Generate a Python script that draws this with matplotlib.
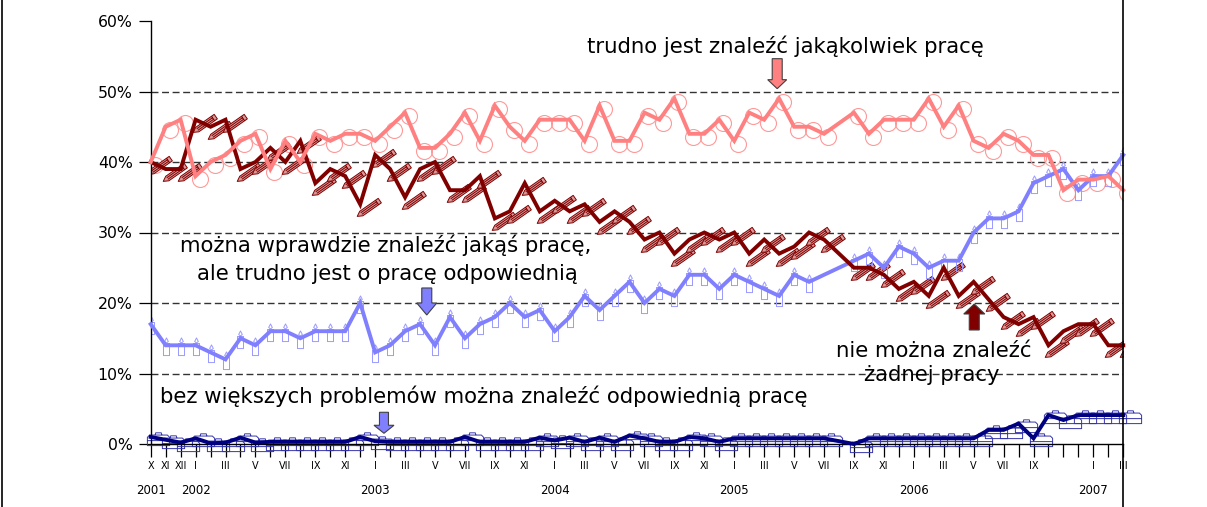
import numpy as np
import matplotlib
matplotlib.use("Agg")
import matplotlib.pyplot as plt
from matplotlib.path import Path
import matplotlib.transforms as mtransforms
from matplotlib.patches import Polygon
from matplotlib.lines import Line2D

nan = np.nan

# ---------------- data (monthly, X 2001 .. III 2007) ----------------
month_labels = ['X', 'XI', 'XII', 'I', '', 'III', '', 'V', '', 'VII', '', 'IX', '', 'XI', '',
                'I', '', 'III', '', 'V', '', 'VII', '', 'IX', '', 'XI', '',
                'I', '', 'III', '', 'V', '', 'VII', '', 'IX', '', 'XI', '',
                'I', '', 'III', '', 'V', '', 'VII', '', 'IX', '', 'XI', '',
                'I', '', 'III', '', 'V', '', 'VII', '', 'IX', '', '', '',
                'I', '', 'III']
year_labels = ['2001', '2002', '2003', '2004', '2005', '2006', '2007']
year_pos = [0, 3, 15, 27, 39, 51, 63]

any_job_hard = [40, 45, 46, 38, 40, 41, 43, 44, 39, 43,
                40, 44, 43, 44, 44, 43, 45, 47, 42, 42,
                44, 47, 43, 48, 45, 43, 46, 46, 46, 43,
                48, 43, 43, 47, 46, 49, 44, 44, 46, 43,
                47, 46, 49, 45, 45, 44, nan, 47, 44, 46,
                46, 46, 49, 45, 48, 43, 42, 44, 43, 41,
                41, 36, 37.5, 37.5, 38, 36]
no_job = [40, 39, 39, 46, 45, 46, 39, 40, 42, 40,
          43, 37, 39, 38, 34, 41, 39, 35, 39, 40,
          36, 36, 38, 32, 33, 37, 33, 34.5, 33, 34,
          31.5, 33, 31.5, 29, 30, 27, 29, 30, 29, 30,
          27, 29, 27, 28, 30, 29, nan, 25, 25, 24,
          22, 23, 21, 25, 21, 23, 20.5, 18, 17, 18,
          14, 16, 17, 17, 14, 14]
suitable_hard = [17, 14, 14, 14, 13, 12, 15, 14, 16, 16,
                 15, 16, 16, 16, 20, 13, 14, 16, 17, 14,
                 18, 15, 17, 18, 20, 18, 19, 16, 18, 21,
                 19, 21, 23, 20, 22, 21, 24, 24, 22, 24,
                 23, 22, 21, 24, 23, nan, nan, 26, 27, 25,
                 28, 27, 25, 26, 26, 30, 32, 32, 33, 37,
                 38, 39, 36, 38, 38, 41]
easy = [1.0, 0.6, 0.2, 0.8, 0.1, 0.2, 0.9, 0.2, 0.3, 0.3,
        0.3, 0.3, 0.3, 0.3, 1.0, 0.4, 0.3, 0.3, 0.3, 0.3,
        0.3, 1.0, 0.3, 0.3, 0.3, 0.3, 0.9, 0.5, 0.9, 0.3,
        0.9, 0.3, 1.2, 0.8, 0.3, 0.3, 1.0, 0.8, 0.3, 0.8,
        0.8, 0.8, 0.8, 0.8, 0.8, 0.8, nan, 0.0, 0.8, 0.8,
        0.8, 0.8, 0.8, 0.8, 0.8, 0.8, 2.0, 2.0, 2.9, 0.8,
        4.1, 3.4, 4.1, 4.1, 4.1, 4.1]
x = np.arange(len(any_job_hard))

C_PINK = '#FF8080'
C_DRED = '#800000'
C_BLUE = '#8080FF'
C_NAVY = '#000080'

plt.rcParams['font.family'] = ['DejaVu Sans']

W, H = 1207, 507
fig = plt.figure(figsize=(W / 100, H / 100), dpi=100)
ax_l, ax_r, ax_t, ax_b = 150.7, 1123.3, 21, 444
ax = fig.add_axes([ax_l / W, (H - ax_b) / H, (ax_r - ax_l) / W, (ax_b - ax_t) / H])
ax.set_xlim(0, 65)
ax.set_ylim(0, 60)

# ---------------- custom markers ----------------
def pencil_path():
    verts = [(-0.5, 0), (-0.32, 0.1), (0.5, 0.1), (0.5, -0.1), (-0.32, -0.1), (-0.5, 0),
             (-0.32, 0.035), (0.38, 0.035),
             (-0.32, -0.035), (0.38, -0.035),
             (0.38, 0.1), (0.38, -0.1)]
    codes = [Path.MOVETO, Path.LINETO, Path.LINETO, Path.LINETO, Path.LINETO, Path.CLOSEPOLY,
             Path.MOVETO, Path.LINETO, Path.MOVETO, Path.LINETO, Path.MOVETO, Path.LINETO]
    a = np.deg2rad(35)
    R = np.array([[np.cos(a), -np.sin(a)], [np.sin(a), np.cos(a)]])
    v = np.array(verts) @ R.T
    return Path(v, codes)

def candle_path():
    verts = [(-0.3, -1.0), (0.3, -1.0), (0.3, 0.2), (-0.3, 0.2), (-0.3, -1.0),
             (0.0, 0.75), (0.18, 0.4), (0.0, 0.25), (-0.18, 0.4), (0.0, 0.75)]
    codes = [Path.MOVETO, Path.LINETO, Path.LINETO, Path.LINETO, Path.CLOSEPOLY,
             Path.MOVETO, Path.LINETO, Path.LINETO, Path.LINETO, Path.CLOSEPOLY]
    return Path(verts, codes)

def case_path():
    verts = [(-1.0, -0.55), (1.0, -0.55), (1.0, 0.2), (0.8, 0.4), (-0.8, 0.4), (-1.0, 0.2), (-1.0, -0.55),
             (-0.3, 0.4), (-0.25, 0.6), (0.25, 0.6), (0.3, 0.4),
             (-1.0, -0.1), (1.0, -0.1)]
    codes = [Path.MOVETO, Path.LINETO, Path.LINETO, Path.LINETO, Path.LINETO, Path.LINETO, Path.CLOSEPOLY,
             Path.MOVETO, Path.LINETO, Path.LINETO, Path.LINETO,
             Path.MOVETO, Path.LINETO]
    return Path(verts, codes)

def off(dx, dy):
    return mtransforms.offset_copy(ax.transData, fig=fig, x=dx, y=dy, units='dots')

# markers (under the lines)
ax.plot(x, any_job_hard, ls='none', marker='o', ms=11.5, mfc='none', mec='#FF9999', mew=0.8,
        transform=off(4, -3), zorder=2)
ax.plot(x, no_job, ls='none', marker=pencil_path(), ms=18.5, mfc='#D89A9A', mec=C_DRED, mew=0.7,
        transform=off(8, -4), zorder=2)
ax.plot(x, suitable_hard, ls='none', marker=candle_path(), ms=14.5, mfc='none', mec='#9999FF', mew=0.7,
        zorder=2)
ax.plot(x, easy, ls='none', marker=case_path(), ms=16, mfc='none', mec='#3333AA', mew=0.7,
        transform=off(7, -2), zorder=2, clip_on=False)

# lines
for ser, col in [(suitable_hard, C_BLUE), (easy, C_NAVY), (no_job, C_DRED), (any_job_hard, C_PINK)]:
    xs = np.array(x, dtype=float)
    ys = np.array(ser, dtype=float)
    ok = ~np.isnan(ys)
    ax.plot(xs[ok], ys[ok], color=col, lw=2.8, solid_joinstyle='miter', zorder=3, clip_on=False)

# grid
for g in [10, 20, 30, 40, 50]:
    ax.axhline(g, color='#333333', lw=1.0, ls=(0, (5, 2.6)), zorder=1)

# spines & ticks
for s in ['top', 'right']:
    ax.spines[s].set_visible(False)
ax.spines['left'].set_linewidth(1.0)
ax.spines['bottom'].set_linewidth(1.0)
ax.set_yticks([0, 10, 20, 30, 40, 50, 60])
ax.set_yticklabels(['0%', '10%', '20%', '30%', '40%', '50%', '60%'], fontsize=11.3)
ax.tick_params(axis='y', direction='out', length=9, width=0.9, pad=4)
ax.set_xticks(x)
ax.set_xticklabels(month_labels, fontsize=7)
ax.tick_params(axis='x', direction='out', length=9.5, width=0.9, pad=3)
ytr = mtransforms.blended_transform_factory(ax.transData, ax.transAxes)
for lab, p in zip(year_labels, year_pos):
    ax.text(p, -(491 - ax_b) / (ax_b - ax_t), lab, transform=ytr, ha='center', va='center', fontsize=8.5)

# frame lines of the original picture
fig.add_artist(Line2D([1.5 / W, 1.5 / W], [0, 1], color='black', lw=1.2))
fig.add_artist(Line2D([ax_r / W, ax_r / W], [0, 1], color='black', lw=1.2))

# annotations
FS = 15.3
texts = [
    (785, 53, 'trudno jest znaleźć jakąkolwiek pracę'),
    (386, 252, 'można wprawdzie znaleźć jakąś pracę,'),
    (387, 280, 'ale trudno jest o pracę odpowiednią'),
    (934, 357, 'nie można znaleźć'),
    (932, 381, 'żadnej pracy'),
]
for px, py, t in texts:
    fig.text(px / W, 1 - py / H, t, ha='center', va='baseline', fontsize=FS)
fig.text(160 / W, 1 - 403 / H, 'bez większych problemów można znaleźć odpowiednią pracę',
         ha='left', va='baseline', fontsize=FS)

def block_arrow(xd, yd, up, color, total=27, head_len=10, head_w=19, shaft_w=10):
    s = -1 if up else 1
    pts = [(0, 0), (head_w / 2, s * head_len), (shaft_w / 2, s * head_len), (shaft_w / 2, s * total),
           (-shaft_w / 2, s * total), (-shaft_w / 2, s * head_len), (-head_w / 2, s * head_len)]
    tr = mtransforms.Affine2D() + mtransforms.ScaledTranslation(xd, yd, ax.transData)
    ax.add_patch(Polygon(pts, closed=True, transform=tr, fc=color, ec='#404040', lw=0.8,
                         zorder=5, clip_on=False))

block_arrow(41.87, 50.4, False, C_PINK, total=30, head_len=9, head_w=19, shaft_w=10)
block_arrow(18.45, 18.3, False, C_BLUE, total=27, head_len=12, head_w=20, shaft_w=10)
block_arrow(55.04, 19.86, True, C_DRED, total=26, head_len=10, head_w=21, shaft_w=10)
block_arrow(15.59, 1.52, False, C_BLUE, total=21, head_len=8, head_w=20, shaft_w=9)

fig.savefig('out.png', dpi=100)
